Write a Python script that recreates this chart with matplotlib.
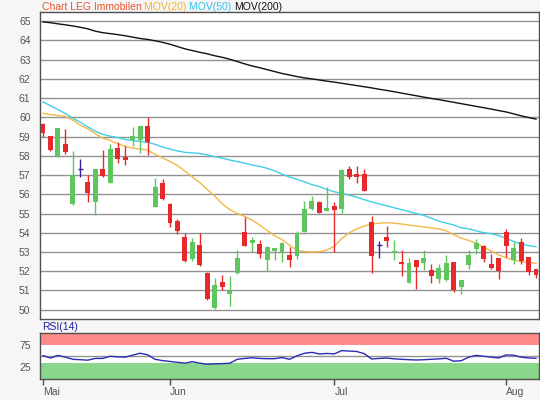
import matplotlib
matplotlib.use('Agg')
import matplotlib.pyplot as plt
import numpy as np

plt.rcParams['font.family'] = ['Liberation Sans', 'DejaVu Sans']

# ---- data ----
opens = [59.65, 59.03, 58.00, 58.63, 55.50, 57.30, 56.65, 55.60, 57.30, 56.60,
         58.42, 57.94, 58.82, 58.82, 59.57, 55.36, 56.59, 55.49, 54.61, 53.78,
         52.65, 53.36, 51.92, 50.10, 51.44, 50.83, 51.91, 54.02, 53.45, 53.41,
         52.60, 53.07, 52.98, 52.84, 52.81, 54.02, 55.23, 55.58, 55.15, 55.39,
         55.23, 57.31, 57.05, 57.05, 54.54, 53.35, 53.78, 52.98, 52.48, 51.40,
         52.56, 52.44, 52.05, 51.61, 51.54, 52.46, 51.16, 52.32, 53.17, 53.31,
         52.39, 52.69, 54.02, 52.58, 53.50, 52.74, 52.10]
highs = [59.70, 59.03, 59.45, 59.40, 58.27, 57.82, 57.00, 57.30, 58.30, 58.60,
         58.70, 58.50, 59.50, 59.60, 60.00, 56.83, 56.78, 55.53, 54.71, 53.99,
         53.74, 54.00, 51.96, 51.63, 51.80, 51.75, 53.10, 54.84, 53.80, 53.62,
         53.30, 53.20, 53.50, 53.28, 54.10, 55.67, 55.93, 55.65, 56.36, 55.58,
         57.30, 57.47, 57.47, 57.31, 54.87, 53.57, 54.35, 53.62, 53.10, 52.70,
         52.56, 53.10, 52.37, 52.37, 52.84, 52.50, 51.52, 53.10, 53.66, 53.38,
         52.89, 52.69, 54.19, 53.50, 53.73, 52.74, 52.10]
lows = [58.96, 58.25, 57.95, 58.10, 55.46, 56.90, 55.60, 54.90, 56.90, 56.57,
        57.60, 57.50, 58.53, 58.16, 58.04, 55.32, 55.70, 54.28, 53.93, 52.46,
        52.51, 52.27, 50.50, 50.03, 51.02, 50.21, 51.84, 53.33, 52.98, 52.70,
        52.00, 52.58, 52.48, 52.24, 52.62, 54.02, 55.18, 55.01, 55.11, 53.02,
        55.04, 56.78, 56.57, 56.19, 51.92, 52.70, 53.28, 52.58, 51.77, 51.40,
        51.07, 52.06, 51.40, 51.40, 51.51, 50.92, 50.80, 52.10, 52.89, 52.46,
        52.10, 51.58, 52.76, 52.36, 52.37, 51.80, 51.66]
closes = [59.20, 58.30, 59.45, 58.20, 56.98, 57.30, 56.05, 57.30, 56.97, 58.34,
          57.82, 57.78, 59.03, 59.55, 58.72, 56.36, 55.74, 54.49, 54.11, 52.53,
          53.50, 52.31, 50.54, 51.28, 51.20, 50.99, 52.69, 53.33, 53.62, 52.89,
          53.26, 53.20, 53.47, 52.58, 54.00, 55.23, 55.65, 55.01, 55.27, 55.20,
          57.26, 56.92, 56.88, 56.19, 52.81, 53.35, 53.59, 53.05, 52.39, 52.43,
          52.24, 52.69, 51.77, 52.17, 52.41, 51.02, 51.52, 52.86, 53.48, 52.65,
          52.18, 52.03, 53.29, 53.20, 52.55, 51.98, 51.79]
mov20 = [60.21, 60.14, 60.10, 60.05, 59.85, 59.60, 59.40, 59.15, 58.92, 58.80,
         58.62, 58.50, 58.40, 58.35, 58.30, 58.08, 57.90, 57.70, 57.50, 57.20,
         56.90, 56.60, 56.25, 55.90, 55.50, 55.20, 55.00, 54.85, 54.65, 54.40,
         54.12, 53.85, 53.65, 53.35, 53.10, 53.02, 53.00, 53.01, 53.10, 53.30,
         53.70, 54.00, 54.20, 54.35, 54.45, 54.50, 54.52, 54.50, 54.45, 54.40,
         54.35, 54.30, 54.25, 54.20, 54.10, 53.90, 53.72, 53.60, 53.45, 53.25,
         53.05, 52.84, 52.70, 52.58, 52.50, 52.45, 52.41]
mov50 = [60.80, 60.60, 60.40, 60.20, 59.95, 59.75, 59.50, 59.28, 59.12, 59.02,
         58.95, 58.85, 58.80, 58.75, 58.70, 58.60, 58.45, 58.35, 58.25, 58.18,
         58.15, 58.12, 58.05, 57.95, 57.88, 57.78, 57.70, 57.62, 57.52, 57.45,
         57.35, 57.22, 57.05, 56.90, 56.78, 56.65, 56.50, 56.40, 56.25, 56.13,
         56.05, 55.95, 55.85, 55.72, 55.60, 55.50, 55.40, 55.30, 55.20, 55.10,
         55.00, 54.90, 54.75, 54.60, 54.50, 54.40, 54.25, 54.20, 54.10, 54.00,
         53.95, 53.85, 53.70, 53.55, 53.42, 53.33, 53.27]
mov200 = [64.96, 64.92, 64.86, 64.81, 64.75, 64.68, 64.60, 64.48, 64.40, 64.35,
          64.30, 64.24, 64.17, 64.10, 64.05, 63.98, 63.90, 63.80, 63.68, 63.56,
          63.47, 63.38, 63.30, 63.20, 63.12, 63.02, 62.90, 62.78, 62.67, 62.58,
          62.48, 62.38, 62.28, 62.20, 62.12, 62.05, 62.00, 61.94, 61.88, 61.83,
          61.77, 61.71, 61.65, 61.59, 61.53, 61.46, 61.40, 61.33, 61.26, 61.19,
          61.12, 61.05, 60.98, 60.92, 60.85, 60.78, 60.71, 60.64, 60.57, 60.50,
          60.43, 60.35, 60.28, 60.18, 60.08, 59.99, 59.91]
rsi = [50.3, 45.0, 51.0, 47.0, 42.0, 41.0, 40.0, 44.0, 44.0, 49.0,
       47.5, 47.0, 51.5, 56.0, 52.5, 42.0, 39.0, 37.0, 35.0, 33.0,
       36.5, 33.0, 30.5, 31.5, 32.0, 32.8, 42.0, 44.0, 45.5, 44.0,
       43.4, 43.4, 46.0, 42.0, 50.0, 55.9, 58.0, 54.3, 55.5, 54.5,
       62.0, 61.0, 60.0, 55.0, 42.7, 44.0, 45.0, 43.0, 42.0, 41.0,
       40.4, 41.0, 42.0, 43.0, 44.3, 37.5, 38.8, 47.0, 51.0, 49.0,
       47.0, 45.0, 52.0, 51.5, 47.0, 45.0, 44.3]
month_labels = ['Mai', 'Jun', 'Jul', 'Aug']
month_pos = [0, 17, 39, 62]
price_ticks = list(range(50, 66))
rsi_ticks = [25, 75]

# ---- figure ----
W, H = 540, 400
BG = '#f6f6f6'
FS = 7.5
fig = plt.figure(figsize=(W / 100, H / 100), dpi=100, facecolor=BG)
ax = fig.add_axes([40.3 / W, 1 - 319.3 / H, 499 / W, (319.3 - 12.3) / H])
rax = fig.add_axes([40.3 / W, 1 - 379 / H, 499 / W, (379 - 333.3) / H])

RED = '#e8292b'
GREEN = '#5fc65f'
DOJI = '#3b1f9c'
TXT = '#555555'
GRID = '#929292'
SPINE = '#505050'

x = np.arange(len(opens))
o = np.array(opens); c = np.array(closes); h = np.array(highs); l = np.array(lows)

ax.plot(x, mov200, color='#111111', lw=1.0, zorder=2)
ax.plot(x, mov50, color='#3fcfe6', lw=1.0, zorder=2)
ax.plot(x, mov20, color='#f3b846', lw=1.0, zorder=2)

bw = 0.66
for i in range(len(o)):
    if c[i] > o[i]:
        col = GREEN
    elif c[i] < o[i]:
        col = RED
    else:
        col = DOJI
    ax.vlines(x[i], l[i], h[i], color=col, lw=1.0, zorder=3)
    if col == DOJI:
        ax.hlines(o[i], x[i] - bw / 2, x[i] + bw / 2, color=col, lw=1.0, zorder=4)
    else:
        ax.bar(x[i], abs(c[i] - o[i]), bottom=min(o[i], c[i]), width=bw,
               color=col, edgecolor='none', zorder=4)

xl = (-0.36, 66.44)
ax.set_xlim(*xl)
ax.set_ylim(49.5, 65.46)
ax.set_yticks(price_ticks)
ax.set_xticks([])
ax.yaxis.grid(True, color=GRID, lw=1.0)
ax.set_axisbelow(True)
ax.tick_params(axis='y', length=0, pad=7, labelsize=FS, labelcolor=TXT)
ax.set_facecolor('white')
for s in ax.spines.values():
    s.set_color(SPINE); s.set_linewidth(1.0)

# RSI panel
rax.set_facecolor('white')
rax.set_xlim(*xl)
rax.set_ylim(-3.5, 102)
rax.axhspan(75, 102, color='#ff8b8b', lw=0, zorder=1)
rax.axhspan(-3.5, 34, color='#8ad68a', lw=0, zorder=1)
rax.axhline(50, color=GRID, lw=1.0, zorder=2)
rax.plot(x, rsi, color='#2a2ab4', lw=1.0, zorder=3)
rax.set_yticks(rsi_ticks)
rax.tick_params(axis='y', length=0, pad=7, labelsize=FS, labelcolor=TXT)
rax.set_xticks(month_pos)
rax.set_xticklabels(month_labels)
rax.tick_params(axis='x', length=4, width=1, color=SPINE, pad=2, labelsize=FS, labelcolor=TXT)
for lab in rax.get_xticklabels():
    lab.set_ha('left')
for s in rax.spines.values():
    s.set_color(SPINE); s.set_linewidth(1.0)

rax.text(0.003, 1.02, 'RSI(14)', transform=rax.transAxes, color='#1c1ca8',
         fontsize=FS, ha='left', va='bottom')

# title pieces
parts = [('Chart LEG Immobilen ', '#e4572e'), ('MOV(20) ', '#f2b132'),
         ('MOV(50) ', '#33c3e6'), ('MOV(200)', '#111111')]
renderer = fig.canvas.get_renderer()
xpos = 41.5 / W
for txt, col in parts:
    t = fig.text(xpos, 1 - 7.5 / H, txt, color=col, fontsize=FS, ha='left', va='center')
    bb = t.get_window_extent(renderer=renderer)
    xpos = bb.x1 / W

fig.savefig('out.png', dpi=100, facecolor=BG)
